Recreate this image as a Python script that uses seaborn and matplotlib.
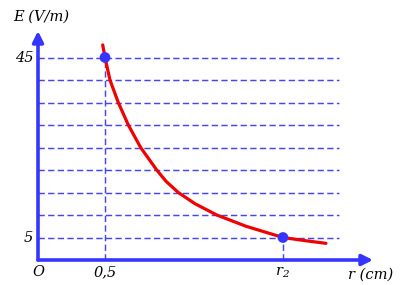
import matplotlib
matplotlib.use("Agg")
import matplotlib.pyplot as plt
import seaborn as sns
import pandas as pd

# data
curve_r = [0.483, 0.500, 0.537, 0.599, 0.674, 0.766, 0.886, 0.955, 1.047, 1.172, 1.334, 1.552, 1.828, 1.993, 2.149]
curve_E = [47.8, 45.0, 40.0, 35.0, 30.0, 25.0, 20.0, 17.5, 15.0, 12.5, 10.0, 7.5, 5.0, 4.3, 3.7]
point_r = [0.5, 1.828]
point_E = [45, 5]
grid_E = [5, 10, 15, 20, 25, 30, 35, 40, 45]
y_labels = {45: "45", 5: "5"}
x_labels = {0.0: "O", 0.5: "0,5", 1.828: "r$_2$"}

sns.set_theme(style="white")
plt.rcParams['font.family'] = ['DejaVu Serif']
plt.rcParams['text.color'] = 'black'
plt.rcParams['mathtext.fontset'] = 'custom'
plt.rcParams['mathtext.rm'] = 'DejaVu Serif:italic'
plt.rcParams['mathtext.it'] = 'DejaVu Serif:italic'

fig = plt.figure(figsize=(4.0, 2.85), dpi=100)
ax = fig.add_axes([0.095, 25/285, 342/400, 235/285])
ax.axis('off')

blue = '#3535ff'
dash_col = '#4646f0'
xmax_grid = (339 - 38) / 134

for e in grid_E:
    ax.plot([0, xmax_grid], [e, e], color=dash_col, lw=1.05, dashes=(4.3, 2.3), zorder=1)
ax.plot([point_r[0]] * 2, [0, point_E[0]], color=dash_col, lw=1.05, dashes=(4.3, 2.3), zorder=1)
ax.plot([point_r[1]] * 2, [0, point_E[1]], color=dash_col, lw=1.05, dashes=(4.3, 2.3), zorder=1)

# axes arrows
ax.annotate("", xy=(0, (260 - 31) / 4.5), xytext=(0, 0),
            arrowprops=dict(arrowstyle='-|>', color=blue, lw=2.6, mutation_scale=16,
                            shrinkA=0, shrinkB=0), zorder=5)
ax.annotate("", xy=((373 - 38) / 134, 0), xytext=(0, 0),
            arrowprops=dict(arrowstyle='-|>', color=blue, lw=2.6, mutation_scale=16,
                            shrinkA=0, shrinkB=0), zorder=5)

df = pd.DataFrame({"r": curve_r, "E": curve_E})
sns.lineplot(data=df, x="r", y="E", ax=ax, color='#f00000', lw=2.3, sort=False, zorder=3)
pts = pd.DataFrame({"r": point_r, "E": point_E})
sns.scatterplot(data=pts, x="r", y="E", ax=ax, color=blue, s=60, edgecolor='none', zorder=4)
ax.set_xlim(0, 342/134)
ax.set_ylim(0, 235/4.5)
ax.axis('off')

fs = 10.5
for e, t in y_labels.items():
    ax.text(-0.035, e, t, ha='right', va='center', fontsize=fs, style='italic', color='black')
for r, t in x_labels.items():
    ax.text(r, -2.75, t, ha='center', va='center', fontsize=fs, style='italic', color='black')
ax.text(2.485, -3.3, "r (cm)", ha='center', va='center', fontsize=fs, style='italic',
        color='black', clip_on=False)
fig.text(41/400, 1 - 17/285, "E (V/m)", ha='center', va='center', fontsize=fs,
         style='italic', color='black')

fig.savefig("out.png", dpi=100)
